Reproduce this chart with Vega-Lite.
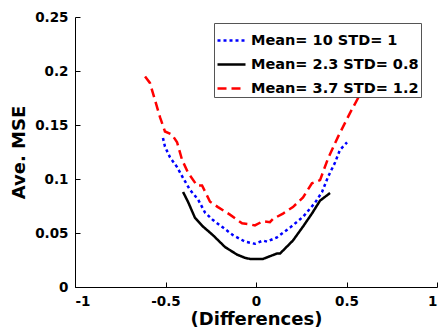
{
  "$schema": "https://vega.github.io/schema/vega-lite/v6.json",
  "width": 362,
  "height": 270,
  "autosize": "none",
  "padding": {"left": 75, "top": 17, "right": 2, "bottom": 46},
  "background": "white",
  "config": {
    "view": {"stroke": null},
    "font": "DejaVu Sans",
    "axis": {
      "grid": false,
      "domainColor": "black",
      "tickColor": "black",
      "labelColor": "black",
      "titleColor": "black",
      "labelFont": "DejaVu Sans",
      "titleFont": "DejaVu Sans",
      "labelFontWeight": "bold",
      "titleFontWeight": "bold",
      "labelFontSize": 13.5,
      "titleFontSize": 18,
      "tickSize": -5,
      "domainWidth": 1,
      "tickWidth": 1
    }
  },
  "data": {
    "values": [
      {"s": "Mean= 10 STD= 1", "x": -0.514, "y": 0.138},
      {"s": "Mean= 10 STD= 1", "x": -0.503, "y": 0.130},
      {"s": "Mean= 10 STD= 1", "x": -0.475, "y": 0.120},
      {"s": "Mean= 10 STD= 1", "x": -0.436, "y": 0.111},
      {"s": "Mean= 10 STD= 1", "x": -0.403, "y": 0.101},
      {"s": "Mean= 10 STD= 1", "x": -0.365, "y": 0.090},
      {"s": "Mean= 10 STD= 1", "x": -0.320, "y": 0.081},
      {"s": "Mean= 10 STD= 1", "x": -0.282, "y": 0.069},
      {"s": "Mean= 10 STD= 1", "x": -0.238, "y": 0.062},
      {"s": "Mean= 10 STD= 1", "x": -0.182, "y": 0.055},
      {"s": "Mean= 10 STD= 1", "x": -0.127, "y": 0.048},
      {"s": "Mean= 10 STD= 1", "x": -0.061, "y": 0.042},
      {"s": "Mean= 10 STD= 1", "x": -0.006, "y": 0.040},
      {"s": "Mean= 10 STD= 1", "x": 0.039, "y": 0.043},
      {"s": "Mean= 10 STD= 1", "x": 0.061, "y": 0.042},
      {"s": "Mean= 10 STD= 1", "x": 0.116, "y": 0.046},
      {"s": "Mean= 10 STD= 1", "x": 0.188, "y": 0.055},
      {"s": "Mean= 10 STD= 1", "x": 0.260, "y": 0.065},
      {"s": "Mean= 10 STD= 1", "x": 0.326, "y": 0.078},
      {"s": "Mean= 10 STD= 1", "x": 0.365, "y": 0.088},
      {"s": "Mean= 10 STD= 1", "x": 0.398, "y": 0.102},
      {"s": "Mean= 10 STD= 1", "x": 0.436, "y": 0.115},
      {"s": "Mean= 10 STD= 1", "x": 0.464, "y": 0.127},
      {"s": "Mean= 10 STD= 1", "x": 0.503, "y": 0.134},
      {"s": "Mean= 2.3 STD= 0.8", "x": -0.403, "y": 0.088},
      {"s": "Mean= 2.3 STD= 0.8", "x": -0.376, "y": 0.079},
      {"s": "Mean= 2.3 STD= 0.8", "x": -0.337, "y": 0.064},
      {"s": "Mean= 2.3 STD= 0.8", "x": -0.293, "y": 0.056},
      {"s": "Mean= 2.3 STD= 0.8", "x": -0.238, "y": 0.048},
      {"s": "Mean= 2.3 STD= 0.8", "x": -0.171, "y": 0.037},
      {"s": "Mean= 2.3 STD= 0.8", "x": -0.105, "y": 0.030},
      {"s": "Mean= 2.3 STD= 0.8", "x": -0.061, "y": 0.027},
      {"s": "Mean= 2.3 STD= 0.8", "x": -0.033, "y": 0.026},
      {"s": "Mean= 2.3 STD= 0.8", "x": 0.039, "y": 0.026},
      {"s": "Mean= 2.3 STD= 0.8", "x": 0.116, "y": 0.031},
      {"s": "Mean= 2.3 STD= 0.8", "x": 0.133, "y": 0.031},
      {"s": "Mean= 2.3 STD= 0.8", "x": 0.204, "y": 0.043},
      {"s": "Mean= 2.3 STD= 0.8", "x": 0.260, "y": 0.056},
      {"s": "Mean= 2.3 STD= 0.8", "x": 0.309, "y": 0.068},
      {"s": "Mean= 2.3 STD= 0.8", "x": 0.354, "y": 0.080},
      {"s": "Mean= 2.3 STD= 0.8", "x": 0.409, "y": 0.087},
      {"s": "Mean= 3.7 STD= 1.2", "x": -0.613, "y": 0.195},
      {"s": "Mean= 3.7 STD= 1.2", "x": -0.586, "y": 0.189},
      {"s": "Mean= 3.7 STD= 1.2", "x": -0.558, "y": 0.173},
      {"s": "Mean= 3.7 STD= 1.2", "x": -0.530, "y": 0.157},
      {"s": "Mean= 3.7 STD= 1.2", "x": -0.503, "y": 0.144},
      {"s": "Mean= 3.7 STD= 1.2", "x": -0.464, "y": 0.141},
      {"s": "Mean= 3.7 STD= 1.2", "x": -0.436, "y": 0.134},
      {"s": "Mean= 3.7 STD= 1.2", "x": -0.409, "y": 0.118},
      {"s": "Mean= 3.7 STD= 1.2", "x": -0.376, "y": 0.106},
      {"s": "Mean= 3.7 STD= 1.2", "x": -0.326, "y": 0.094},
      {"s": "Mean= 3.7 STD= 1.2", "x": -0.298, "y": 0.094},
      {"s": "Mean= 3.7 STD= 1.2", "x": -0.254, "y": 0.079},
      {"s": "Mean= 3.7 STD= 1.2", "x": -0.210, "y": 0.074},
      {"s": "Mean= 3.7 STD= 1.2", "x": -0.144, "y": 0.067},
      {"s": "Mean= 3.7 STD= 1.2", "x": -0.077, "y": 0.059},
      {"s": "Mean= 3.7 STD= 1.2", "x": -0.033, "y": 0.058},
      {"s": "Mean= 3.7 STD= 1.2", "x": -0.006, "y": 0.057},
      {"s": "Mean= 3.7 STD= 1.2", "x": 0.039, "y": 0.061},
      {"s": "Mean= 3.7 STD= 1.2", "x": 0.077, "y": 0.060},
      {"s": "Mean= 3.7 STD= 1.2", "x": 0.094, "y": 0.063},
      {"s": "Mean= 3.7 STD= 1.2", "x": 0.149, "y": 0.068},
      {"s": "Mean= 3.7 STD= 1.2", "x": 0.204, "y": 0.074},
      {"s": "Mean= 3.7 STD= 1.2", "x": 0.260, "y": 0.083},
      {"s": "Mean= 3.7 STD= 1.2", "x": 0.309, "y": 0.096},
      {"s": "Mean= 3.7 STD= 1.2", "x": 0.354, "y": 0.099},
      {"s": "Mean= 3.7 STD= 1.2", "x": 0.398, "y": 0.119},
      {"s": "Mean= 3.7 STD= 1.2", "x": 0.453, "y": 0.139},
      {"s": "Mean= 3.7 STD= 1.2", "x": 0.519, "y": 0.161},
      {"s": "Mean= 3.7 STD= 1.2", "x": 0.564, "y": 0.175},
      {"s": "Mean= 3.7 STD= 1.2", "x": 0.600, "y": 0.190}
    ]
  },
  "mark": {"type": "line", "strokeWidth": 2.5, "clip": true},
  "encoding": {
    "x": {
      "field": "x",
      "type": "quantitative",
      "scale": {"domain": [-1, 1], "nice": false, "zero": false},
      "axis": {"values": [-1, -0.5, 0, 0.5, 1], "labelExpr": "replace(format(datum.value, '~g'), '\u2212', '-')", "title": "(Differences)", "labelPadding": 12, "titlePadding": 3}
    },
    "y": {
      "field": "y",
      "type": "quantitative",
      "scale": {"domain": [0, 0.25], "nice": false},
      "axis": {"values": [0, 0.05, 0.1, 0.15, 0.2, 0.25], "format": "~g", "title": "Ave. MSE", "labelPadding": 12, "titlePadding": 6}
    },
    "color": {
      "field": "s",
      "type": "nominal",
      "scale": {
        "domain": ["Mean= 10 STD= 1", "Mean= 2.3 STD= 0.8", "Mean= 3.7 STD= 1.2"],
        "range": ["#0000ff", "#000000", "#ff0000"]
      },
      "legend": {
        "title": null,
        "orient": "none",
        "legendX": 139,
        "legendY": 6,
        "fillColor": "white",
        "strokeColor": "#555555",
        "padding": 2,
        "symbolType": "stroke",
        "symbolSize": 784,
        "symbolStrokeWidth": 2.5,
        "rowPadding": 2,
        "labelOffset": 4,
        "labelFont": "DejaVu Sans",
        "labelFontWeight": "bold",
        "labelFontSize": 14.5,
        "labelColor": "black",
        "labelLimit": 300
      }
    },
    "strokeDash": {
      "field": "s",
      "type": "nominal",
      "scale": {
        "domain": ["Mean= 10 STD= 1", "Mean= 2.3 STD= 0.8", "Mean= 3.7 STD= 1.2"],
        "range": [[3, 3], [1, 0], [9, 5]]
      },
      "legend": null
    }
  }
}
